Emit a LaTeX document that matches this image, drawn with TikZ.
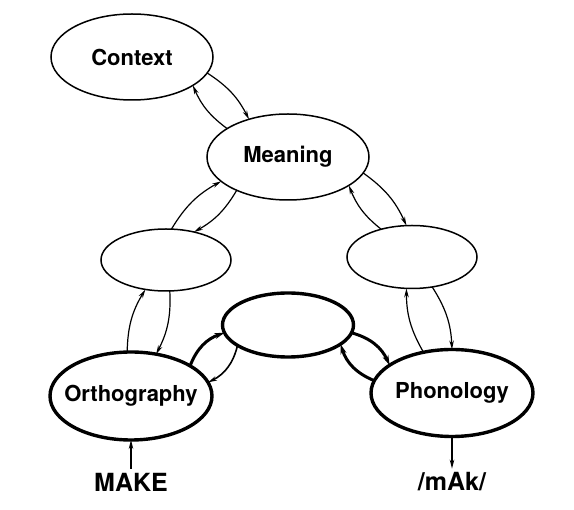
\documentclass[tikz,border=0pt]{standalone}
\usepackage{fontspec}
\setmainfont{TeX Gyre Heros}
\usetikzlibrary{shapes.geometric,arrows.meta}

\begin{document}
\begin{tikzpicture}[x=1pt,y=-1pt,
    every node/.style={inner sep=0pt, outer sep=0pt},
    every label/.style={font=\fontsize{22}{25}\selectfont\bfseries},
    thinunit/.style={ellipse, draw, line width=1.5pt},
    thickunit/.style={ellipse, draw, line width=3.4pt},
    word/.style={font=\fontsize{25}{28}\selectfont\bfseries, inner sep=4pt},
    link/.style={-{Stealth[length=9pt,width=4.5pt]}, line width=1.2pt, bend left=15},
    heavylink/.style={-{Stealth[length=10pt,width=6pt]}, line width=3pt, bend left=25}]
    \useasboundingbox (0,0) rectangle (574,510);

    \node[thinunit, minimum width=162pt, minimum height=86pt, label=center:Context] (context) at (132,57) {};
    \node[thinunit, minimum width=162pt, minimum height=86pt, label=center:Meaning] (meaning) at (288,157) {};
    \node[thinunit, minimum width=130pt, minimum height=62pt] (hidleft) at (166,260) {};
    \node[thinunit, minimum width=130pt, minimum height=63pt] (hidright) at (412,257) {};
    \node[thickunit, minimum width=131pt, minimum height=64pt] (hidmid) at (288,325) {};
    \node[thickunit, minimum width=162pt, minimum height=88pt, label=center:Orthography] (ortho) at (131,396) {};
    \node[thickunit, minimum width=162pt, minimum height=87pt, label=center:Phonology] (phono) at (452,393) {};
    \node[word] (make) at (131,482) {MAKE};
    \node[word] (mak) at (452,482) {/mAk/};

    \draw[link] (meaning.155) to (context.-25);
    \draw[link] (context.-12) to (meaning.136);
    \draw[link] (hidleft.80) to (meaning.200);
    \draw[link] (meaning.213) to (hidleft.45);
    \draw[link] (hidright.138) to (meaning.-25);
    \draw[link] (meaning.-12) to (hidright.100);
    \draw[link] (ortho.95) to (hidleft.235);
    \draw[link] (hidleft.277) to (ortho.59);
    \draw[link] (phono.125) to (hidright.260);
    \draw[link] (hidright.304) to (phono.90);
    \draw[heavylink] (ortho.27) to (hidmid.187);
    \draw[link, line width=1.6pt, bend left=25] (hidmid.202) to (ortho.10);
    \draw[heavylink] (hidmid.-7) to (phono.156);
    \draw[heavylink] (phono.171) to (hidmid.-20);
    \draw[link] (make) -- (ortho);
    \draw[link] (phono) -- (mak);
\end{tikzpicture}
\end{document}
